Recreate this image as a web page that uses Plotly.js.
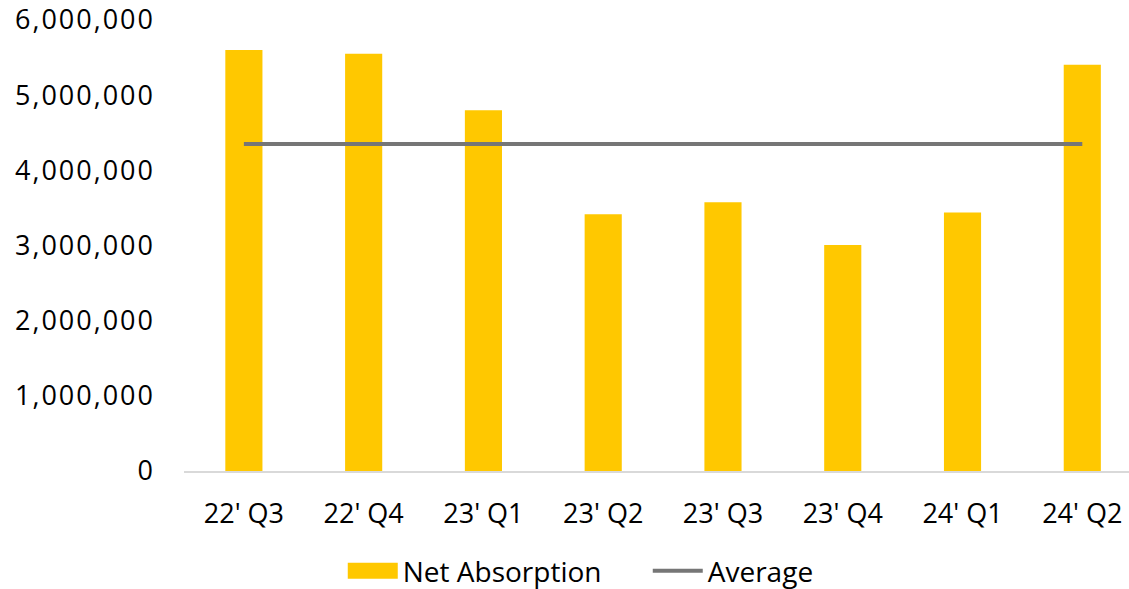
<!DOCTYPE html>
<html>
<head>
<meta charset="utf-8">
<script src="https://cdn.plot.ly/plotly-3.0.1.min.js"></script>
<style>
html,body{margin:0;padding:0;background:#fff;}
#chart{width:1129px;height:589px;}
.ytick text{letter-spacing:2px;}
</style>
</head>
<body>
<div id="chart"></div>
<script>
const categories = ["22' Q3","22' Q4","23' Q1","23' Q2","23' Q3","23' Q4","24' Q1","24' Q2"];
const netAbsorption = [5600000, 5550000, 4800000, 3415000, 3575000, 3005000, 3440000, 5405000];
const averageValues = [4350000, 4350000, 4350000, 4350000, 4350000, 4350000, 4350000, 4350000];
const yTickVals = [0, 1000000, 2000000, 3000000, 4000000, 5000000, 6000000];
const yTickText = ["0","1,000,000","2,000,000","3,000,000","4,000,000","5,000,000","6,000,000"];

const font = "Open Sans, Noto Sans, sans-serif";

const traces = [
  {
    type: "bar",
    name: "Net Absorption",
    x: categories,
    y: netAbsorption,
    marker: {color: "#FFC800"},
    hoverinfo: "x+y"
  },
  {
    type: "scatter",
    mode: "lines",
    name: "Average",
    x: categories,
    y: averageValues,
    line: {color: "#767676", width: 4}
  }
];

const layout = {
  width: 1129,
  height: 589,
  margin: {l: 184, r: 0, t: 20, b: 118, autoexpand: false},
  paper_bgcolor: "#fff",
  plot_bgcolor: "#fff",
  bargap: 0.69,
  font: {family: font, size: 27, color: "#000"},
  showlegend: true,
  legend: {
    orientation: "h",
    x: 0.168,
    xanchor: "left",
    y: -0.222,
    yanchor: "middle",
    font: {family: font, size: 28, color: "#000"},
    itemwidth: 50,
    entrywidth: 240,
    entrywidthmode: "pixels",
    traceorder: "normal"
  },
  xaxis: {
    type: "category",
    range: [-0.5, 7.39],
    showgrid: false,
    showline: true,
    linecolor: "#d9d9d9",
    linewidth: 2,
    ticks: "",
    ticklabelstandoff: 18,
    tickfont: {family: font, size: 27, color: "#000"},
    zeroline: false
  },
  yaxis: {
    range: [0, 6000000],
    tickvals: yTickVals,
    ticktext: yTickText,
    showgrid: false,
    showline: false,
    zeroline: false,
    ticks: "",
    ticklabelstandoff: 28,
    tickfont: {family: font, size: 27, color: "#000"}
  }
};

Plotly.newPlot("chart", traces, layout, {displayModeBar: false, responsive: false}).then(function (gd) {
  // widen the bar legend swatch to match the line swatch width
  const items = gd.querySelectorAll(".legend .traces");
  if (items.length >= 2) {
    const linePath = items[1].querySelector(".legendlines path");
    const barPath = items[0].querySelector(".legendpoints path");
    if (linePath && barPath) {
      const bb = linePath.getBBox();
      const x0 = bb.x, x1 = bb.x + bb.width;
      barPath.setAttribute("d", "M" + x0 + ",-8H" + x1 + "V8H" + x0 + "Z");
      barPath.removeAttribute("transform");
    }
  }
});
</script>
</body>
</html>
